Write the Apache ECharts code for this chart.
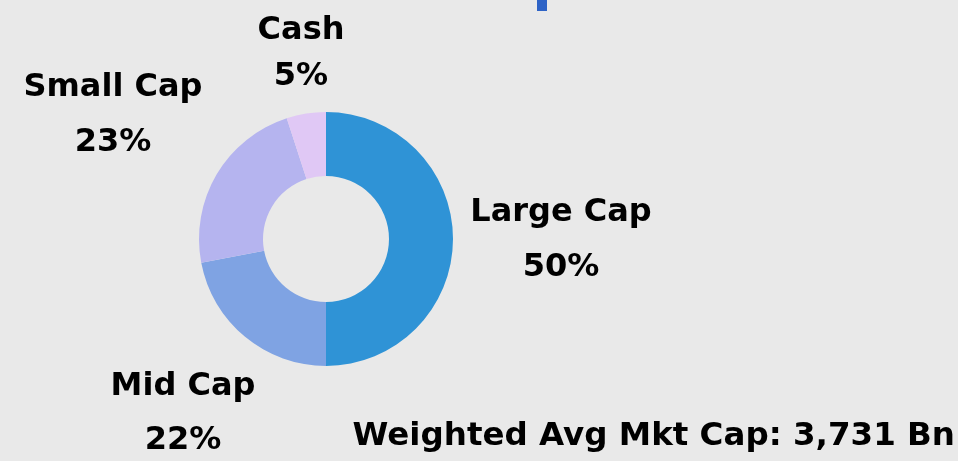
<!DOCTYPE html>
<html><head><meta charset="utf-8">
<script src="https://cdn.jsdelivr.net/npm/echarts@6/dist/echarts.min.js"></script>
<style>html,body{margin:0;padding:0;background:#e9e9e9;}#c{width:958px;height:461px;}</style>
</head><body><div id="c"></div>
<script>
var categories = ['Large Cap', 'Mid Cap', 'Small Cap', 'Cash'];
var values = [50, 22, 23, 5];
var colors = ['#2f93d6', '#7fa3e3', '#b5b4ef', '#e0c8f5'];
var footnote = 'Weighted Avg Mkt Cap: 3,731 Bn';
var labelPos = [[561, 240], [183, 414], [113, 115], [301, 54]];
var labelLineHeights = [55, 54, 55, 46];

var chart = echarts.init(document.getElementById('c'), null, {renderer: 'canvas'});
var FONT = '"DejaVu Sans"';
chart.setOption({
  backgroundColor: '#e9e9e9',
  animation: false,
  graphic: [
    {type: 'rect', shape: {x: 537, y: 0, width: 10, height: 11}, style: {fill: '#2e63c6'}},
    {type: 'text', style: {x: 955, y: 437, text: footnote, font: 'bold 32.5px ' + FONT, fill: '#000', textAlign: 'right', textVerticalAlign: 'middle'}}
  ],
  series: [{
    type: 'pie',
    center: [326, 239],
    radius: [63, 127],
    startAngle: 90,
    clockwise: true,
    data: categories.map(function (c, i) {
      return {name: c, value: values[i], itemStyle: {color: colors[i]}, label: {lineHeight: labelLineHeights[i]}};
    }),
    label: {
      show: true,
      formatter: function (p) { return p.name + '\n' + p.value + '%'; },
      fontFamily: FONT, fontWeight: 'bold', fontSize: 32, color: '#000',
      align: 'center', overflow: 'none'
    },
    labelLine: {show: false},
    labelLayout: function (p) {
      var pos = labelPos[p.dataIndex];
      return {x: pos[0], y: pos[1], align: 'center', verticalAlign: 'middle'};
    },
    emphasis: {disabled: true}
  }]
});
</script></body></html>
